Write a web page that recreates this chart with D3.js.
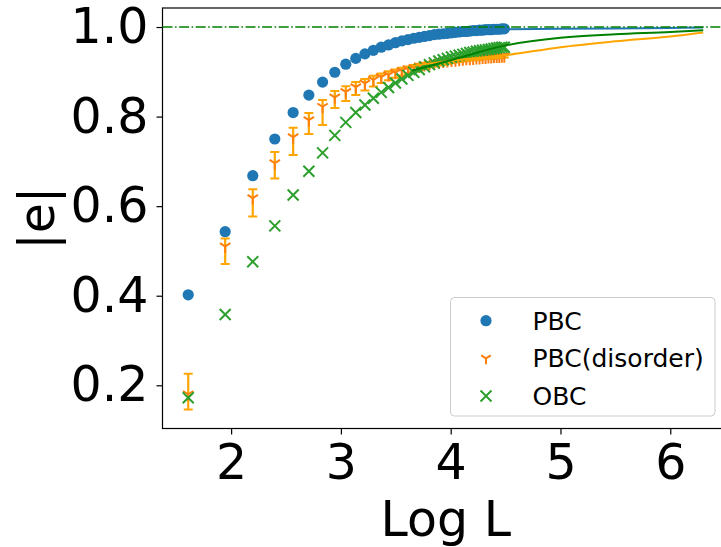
<!DOCTYPE html>
<html>
<head>
<meta charset="utf-8">
<script src="https://cdn.jsdelivr.net/npm/d3@7"></script>
<style>
  body { margin: 0; background: #fff; }
  svg { display: block; font-family: "DejaVu Sans", sans-serif; }
</style>
</head>
<body>
<svg id="chart" width="721" height="547"></svg>
<script>
// system sizes L = 5, 7, ..., 89 (x axis is ln L)
var sizes = d3.range(5, 90, 2);

var pbc = [0.402, 0.543, 0.668, 0.750, 0.809, 0.848, 0.877, 0.899, 0.917, 0.930,
  0.940, 0.948, 0.955, 0.960, 0.965, 0.969, 0.972, 0.975, 0.977, 0.979,
  0.981, 0.983, 0.984, 0.985, 0.986, 0.987, 0.988, 0.989, 0.990, 0.990,
  0.991, 0.992, 0.992, 0.993, 0.993, 0.994, 0.994, 0.994, 0.995, 0.995,
  0.995, 0.996, 0.996];

var disorderMean = [0.180, 0.510, 0.618, 0.696, 0.754, 0.792, 0.822, 0.843, 0.855, 0.866,
  0.874, 0.882, 0.888, 0.893, 0.898, 0.902, 0.906, 0.909, 0.912, 0.915,
  0.917, 0.919, 0.921, 0.923, 0.924, 0.925, 0.926, 0.927, 0.928, 0.929,
  0.929, 0.930, 0.931, 0.931, 0.932, 0.932, 0.933, 0.933, 0.934, 0.934,
  0.934, 0.935, 0.935];
var disorderLow = [0.146, 0.471, 0.577, 0.662, 0.714, 0.761, 0.781, 0.819, 0.835, 0.848,
  0.858, 0.867, 0.875, 0.881, 0.887, 0.892, 0.897, 0.901, 0.904, 0.907,
  0.910, 0.912, 0.914, 0.916, 0.918, 0.920, 0.921, 0.922, 0.923, 0.924,
  0.925, 0.926, 0.927, 0.927, 0.928, 0.929, 0.929, 0.930, 0.930, 0.931,
  0.931, 0.932, 0.932];
var disorderHigh = [0.226, 0.528, 0.638, 0.721, 0.775, 0.808, 0.837, 0.857, 0.868, 0.877,
  0.884, 0.891, 0.896, 0.901, 0.905, 0.909, 0.912, 0.915, 0.918, 0.920,
  0.922, 0.924, 0.926, 0.927, 0.928, 0.929, 0.930, 0.931, 0.932, 0.933,
  0.933, 0.934, 0.934, 0.935, 0.935, 0.936, 0.936, 0.936, 0.937, 0.937,
  0.937, 0.938, 0.938];

var obc = [0.172, 0.358, 0.476, 0.556, 0.625, 0.678, 0.719, 0.758, 0.787, 0.809,
  0.826, 0.841, 0.854, 0.865, 0.875, 0.884, 0.892, 0.899, 0.905, 0.911,
  0.916, 0.920, 0.924, 0.927, 0.930, 0.933, 0.935, 0.937, 0.939, 0.941,
  0.943, 0.944, 0.946, 0.947, 0.948, 0.949, 0.950, 0.951, 0.952, 0.953,
  0.954, 0.955, 0.955];

// extrapolation curves (ln L, |e|)
var fitX = [3.65, 4.0, 4.5, 5.0, 5.5, 6.0, 6.30];
var fitPbc = [0.976, 0.987, 0.995, 0.996, 0.997, 0.998, 0.999];
var fitDisorder = [0.913, 0.925, 0.937, 0.955, 0.968, 0.979, 0.988];
var fitObc = [0.903, 0.926, 0.959, 0.976, 0.984, 0.989, 0.993];

var xTicks = [2, 3, 4, 5, 6];
var yTicks = [0.2, 0.4, 0.6, 0.8, 1.0];
var legendNames = ["PBC", "PBC(disorder)", "OBC"];

var axL = 162.5, axT = 8, axR = 729, axB = 428.5;
var svg = d3.select("#chart");

var x = d3.scaleLinear().domain([1.375, 6.535]).range([axL, axR]);
var y = d3.scaleLinear().domain([0.1035, 1.0425]).range([axB, axT]);

var logL = sizes.map(function(L) { return Math.log(L); });

// axes frame
svg.append("rect")
  .attr("x", axL).attr("y", axT)
  .attr("width", axR - axL).attr("height", axB - axT)
  .attr("fill", "none").attr("stroke", "#000").attr("stroke-width", 1.2);

var xAxis = svg.append("g")
  .attr("transform", "translate(0," + axB + ")")
  .call(d3.axisBottom(x).tickValues(xTicks).tickFormat(d3.format("d")).tickSize(6).tickPadding(10));
var yAxis = svg.append("g")
  .attr("transform", "translate(" + axL + ",0)")
  .call(d3.axisLeft(y).tickValues(yTicks).tickFormat(d3.format(".1f")).tickSize(6).tickPadding(8));
[xAxis, yAxis].forEach(function(a) {
  a.select(".domain").remove();
  a.selectAll("line").attr("stroke", "#000").attr("stroke-width", 1.2);
  a.selectAll("text").attr("font-family", "DejaVu Sans").attr("font-size", 49).attr("fill", "#000");
});

svg.append("text")
  .attr("x", (axL + axR) / 2).attr("y", 536)
  .attr("text-anchor", "middle").attr("font-size", 49)
  .text("Log L");
svg.append("text")
  .attr("transform", "translate(54," + (axT + axB) / 2 + ") rotate(-90)")
  .attr("text-anchor", "middle").attr("font-size", 49)
  .text("|e|");

var plot = svg.append("g");

function triDown(s) {
  return "M0,0L0," + s + "M0,0L" + (0.8 * s) + "," + (-0.5 * s) + "M0,0L" + (-0.8 * s) + "," + (-0.5 * s);
}
function cross(s) {
  return "M" + (-s) + "," + (-s) + "L" + s + "," + s + "M" + (-s) + "," + s + "L" + s + "," + (-s);
}

// PBC
plot.selectAll(".pbc").data(pbc).enter().append("circle")
  .attr("cx", function(d, i) { return x(logL[i]); })
  .attr("cy", function(d) { return y(d); })
  .attr("r", 5.6).attr("fill", "#1f77b4");

// PBC(disorder) with error bars
var eb = plot.selectAll(".eb").data(disorderMean).enter().append("g")
  .attr("transform", function(d, i) { return "translate(" + x(logL[i]) + ",0)"; });
eb.append("line")
  .attr("y1", function(d, i) { return y(disorderLow[i]); })
  .attr("y2", function(d, i) { return y(disorderHigh[i]); })
  .attr("stroke", "#ffa500").attr("stroke-width", 2.2);
eb.append("path")
  .attr("d", function(d, i) {
    var lo = y(disorderLow[i]), hi = y(disorderHigh[i]);
    return "M-4.5," + lo + "H4.5M-4.5," + hi + "H4.5";
  })
  .attr("stroke", "#ffa500").attr("stroke-width", 2);
eb.append("path")
  .attr("transform", function(d) { return "translate(0," + y(d) + ")"; })
  .attr("d", triDown(6.5)).attr("fill", "none")
  .attr("stroke", "#ff7f0e").attr("stroke-width", 2);

// OBC
plot.selectAll(".obc").data(obc).enter().append("path")
  .attr("transform", function(d, i) { return "translate(" + x(logL[i]) + "," + y(d) + ")"; })
  .attr("d", cross(5.5)).attr("fill", "none")
  .attr("stroke", "#2ca02c").attr("stroke-width", 2);

// extrapolation lines
var line = d3.line().curve(d3.curveMonotoneX);
[[fitPbc, "#1f77b4"], [fitDisorder, "#ffa500"], [fitObc, "#008000"]].forEach(function(f) {
  plot.append("path")
    .attr("d", line(fitX.map(function(v, i) { return [x(v), y(f[0][i])]; })))
    .attr("fill", "none").attr("stroke", f[1]).attr("stroke-width", 2);
});

// reference line at 1
plot.append("line")
  .attr("x1", axL).attr("x2", axR)
  .attr("y1", y(1)).attr("y2", y(1))
  .attr("stroke", "#008000").attr("stroke-width", 1.5)
  .attr("stroke-dasharray", "10,2.5,1.6,2.5");

// legend
var lg = svg.append("g");
lg.append("rect")
  .attr("x", 450.5).attr("y", 297.5).attr("width", 264.5).attr("height", 118.5)
  .attr("rx", 4).attr("fill", "#fff").attr("fill-opacity", 0.8)
  .attr("stroke", "#cccccc").attr("stroke-width", 1);
var rowY = [320.7, 358.3, 396];
lg.append("circle").attr("cx", 486).attr("cy", rowY[0]).attr("r", 5.6).attr("fill", "#1f77b4");
lg.append("path").attr("transform", "translate(486," + rowY[1] + ")")
  .attr("d", triDown(6)).attr("fill", "none").attr("stroke", "#ff7f0e").attr("stroke-width", 2);
lg.append("path").attr("transform", "translate(486," + rowY[2] + ")")
  .attr("d", cross(5.5)).attr("fill", "none").attr("stroke", "#2ca02c").attr("stroke-width", 2);
lg.selectAll(".lt").data(legendNames).enter().append("text")
  .attr("x", 532.5).attr("y", function(d, i) { return rowY[i] + 9; })
  .attr("font-size", 25).attr("fill", "#000")
  .text(function(d) { return d; });
</script>
</body>
</html>
